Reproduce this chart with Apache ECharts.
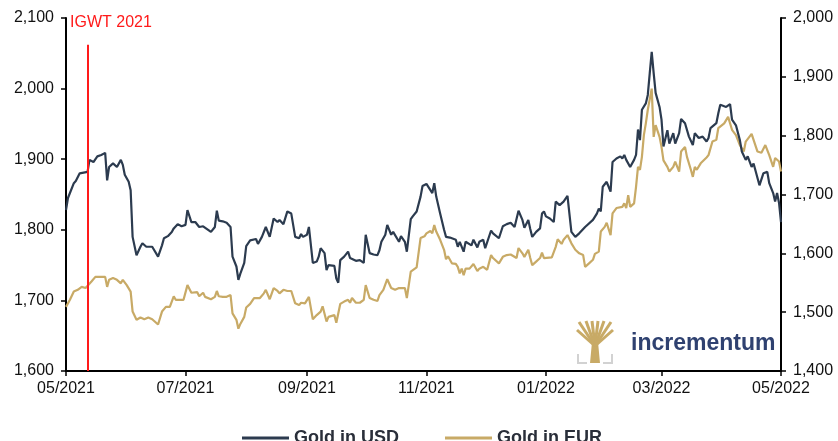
<!DOCTYPE html>
<html>
<head>
<meta charset="utf-8">
<script src="https://cdn.jsdelivr.net/npm/echarts@6/dist/echarts.min.js"></script>
<style>
  html, body { margin: 0; padding: 0; background: #fff; }
  #chart { width: 838px; height: 441px; }
</style>
</head>
<body>
<div id="chart"></div>
<script>
const usdDates = [
  '2021-05-01','2021-05-02','2021-05-05','2021-05-06','2021-05-08','2021-05-12','2021-05-13','2021-05-15','2021-05-17','2021-05-19',
  '2021-05-21','2021-05-22','2021-05-23','2021-05-25','2021-05-27','2021-05-29','2021-05-30','2021-05-31','2021-06-02','2021-06-03',
  '2021-06-04','2021-06-06','2021-06-08','2021-06-09','2021-06-11','2021-06-12','2021-06-14','2021-06-15','2021-06-17','2021-06-19',
  '2021-06-20','2021-06-22','2021-06-24','2021-06-25','2021-06-27','2021-06-29','2021-07-01','2021-07-02','2021-07-04','2021-07-06',
  '2021-07-08','2021-07-10','2021-07-12','2021-07-14','2021-07-16','2021-07-17','2021-07-18','2021-07-20','2021-07-22','2021-07-24',
  '2021-07-25','2021-07-27','2021-07-28','2021-07-29','2021-07-31','2021-08-01','2021-08-03','2021-08-04','2021-08-06','2021-08-07',
  '2021-08-09','2021-08-11','2021-08-13','2021-08-15','2021-08-17','2021-08-18','2021-08-20','2021-08-22','2021-08-24','2021-08-26',
  '2021-08-28','2021-08-29','2021-08-30','2021-09-01','2021-09-02','2021-09-04','2021-09-06','2021-09-07','2021-09-08','2021-09-10',
  '2021-09-11','2021-09-12','2021-09-15','2021-09-16','2021-09-17','2021-09-18','2021-09-20','2021-09-22','2021-09-23','2021-09-24',
  '2021-09-26','2021-09-28','2021-09-30','2021-10-01','2021-10-02','2021-10-03','2021-10-05','2021-10-07','2021-10-08','2021-10-09',
  '2021-10-11','2021-10-12','2021-10-14','2021-10-15','2021-10-16','2021-10-18','2021-10-19','2021-10-21','2021-10-22','2021-10-24',
  '2021-10-25','2021-10-27','2021-10-29','2021-10-30','2021-11-01','2021-11-02','2021-11-04','2021-11-05','2021-11-06','2021-11-08',
  '2021-11-10','2021-11-11','2021-11-13','2021-11-14','2021-11-16','2021-11-17','2021-11-18','2021-11-20','2021-11-21','2021-11-22',
  '2021-11-24','2021-11-25','2021-11-27','2021-11-28','2021-11-30','2021-12-01','2021-12-04','2021-12-05','2021-12-08','2021-12-10',
  '2021-12-12','2021-12-14','2021-12-16','2021-12-18','2021-12-20','2021-12-21','2021-12-23','2021-12-24','2021-12-25','2021-12-27',
  '2021-12-29','2021-12-30','2021-12-31','2022-01-01','2022-01-03','2022-01-04','2022-01-05','2022-01-06','2022-01-08','2022-01-10',
  '2022-01-12','2022-01-14','2022-01-16','2022-01-18','2022-01-21','2022-01-22','2022-01-25','2022-01-27','2022-01-28','2022-01-29',
  '2022-01-30','2022-02-01','2022-02-02','2022-02-03','2022-02-04','2022-02-06','2022-02-08','2022-02-09','2022-02-10','2022-02-11',
  '2022-02-13','2022-02-15','2022-02-16','2022-02-17','2022-02-18','2022-02-19','2022-02-21','2022-02-22','2022-02-23','2022-02-24',
  '2022-02-25','2022-02-26','2022-02-27','2022-02-28','2022-03-01','2022-03-02','2022-03-04','2022-03-05','2022-03-07','2022-03-08',
  '2022-03-10','2022-03-11','2022-03-13','2022-03-15','2022-03-17','2022-03-18','2022-03-20','2022-03-22','2022-03-24','2022-03-25',
  '2022-03-26','2022-03-29','2022-03-30','2022-03-31','2022-04-03','2022-04-05','2022-04-06','2022-04-08','2022-04-10','2022-04-11',
  '2022-04-13','2022-04-14','2022-04-16','2022-04-17','2022-04-20','2022-04-22','2022-04-24','2022-04-25','2022-04-27','2022-04-28',
  '2022-04-29','2022-04-30','2022-05-01'
]
const usdValues = [
  1828,1845,1866,1869,1880,1882,1899,1896,1904,1906,
  1909,1870,1889,1894,1889,1899,1892,1878,1868,1856,
  1790,1764,1776,1781,1776,1778,1776,1778,1762,1778,
  1788,1791,1797,1802,1808,1805,1807,1828,1811,1811,
  1804,1805,1801,1797,1804,1827,1813,1812,1810,1804,
  1762,1748,1729,1738,1753,1777,1785,1787,1787,1780,
  1790,1804,1790,1816,1811,1814,1808,1826,1823,1790,
  1788,1794,1790,1793,1804,1753,1755,1762,1774,1767,
  1743,1750,1749,1731,1725,1757,1762,1769,1760,1762,
  1756,1757,1753,1793,1795,1767,1765,1764,1771,1783,
  1793,1807,1793,1797,1797,1783,1791,1783,1769,1815,
  1819,1826,1847,1862,1865,1863,1852,1866,1847,1823,
  1800,1790,1789,1791,1786,1776,1783,1769,1783,1781,
  1778,1786,1775,1783,1786,1774,1799,1795,1788,1805,
  1808,1810,1804,1827,1814,1803,1814,1801,1790,1797,
  1802,1823,1826,1819,1816,1816,1811,1840,1835,1840,
  1848,1797,1790,1795,1804,1804,1814,1823,1830,1826,
  1861,1868,1870,1854,1896,1901,1904,1901,1906,1899,
  1889,1899,1906,1942,1927,1970,1979,1991,2022,2052,
  2022,1994,1993,1974,1956,1918,1941,1922,1937,1922,
  1937,1957,1951,1932,1920,1937,1930,1932,1925,1930,
  1944,1951,1965,1977,1974,1978,1956,1948,1927,1911,
  1899,1904,1889,1894,1863,1880,1882,1866,1852,1840,
  1852,1838,1811
]
const eurDates = [
  '2021-05-01','2021-05-03','2021-05-05','2021-05-06','2021-05-07','2021-05-09','2021-05-11','2021-05-12','2021-05-14','2021-05-16',
  '2021-05-18','2021-05-21','2021-05-22','2021-05-23','2021-05-25','2021-05-27','2021-05-28','2021-05-29','2021-05-30','2021-06-01',
  '2021-06-03','2021-06-04','2021-06-06','2021-06-08','2021-06-09','2021-06-10','2021-06-12','2021-06-14','2021-06-15','2021-06-17',
  '2021-06-19','2021-06-21','2021-06-23','2021-06-25','2021-06-26','2021-06-28','2021-06-30','2021-07-02','2021-07-04','2021-07-07',
  '2021-07-08','2021-07-10','2021-07-11','2021-07-14','2021-07-16','2021-07-17','2021-07-18','2021-07-20','2021-07-22','2021-07-24',
  '2021-07-25','2021-07-27','2021-07-28','2021-07-29','2021-07-31','2021-08-01','2021-08-03','2021-08-05','2021-08-06','2021-08-08',
  '2021-08-10','2021-08-11','2021-08-13','2021-08-15','2021-08-17','2021-08-18','2021-08-20','2021-08-22','2021-08-24','2021-08-26',
  '2021-08-28','2021-08-29','2021-08-31','2021-09-02','2021-09-04','2021-09-06','2021-09-08','2021-09-09','2021-09-10','2021-09-11',
  '2021-09-12','2021-09-15','2021-09-16','2021-09-17','2021-09-18','2021-09-20','2021-09-22','2021-09-23','2021-09-24','2021-09-26',
  '2021-09-28','2021-09-30','2021-10-01','2021-10-02','2021-10-03','2021-10-05','2021-10-07','2021-10-08','2021-10-10','2021-10-12',
  '2021-10-14','2021-10-15','2021-10-16','2021-10-18','2021-10-19','2021-10-21','2021-10-22','2021-10-24','2021-10-25','2021-10-27',
  '2021-10-29','2021-10-31','2021-11-01','2021-11-03','2021-11-04','2021-11-05','2021-11-06','2021-11-08','2021-11-10','2021-11-11',
  '2021-11-12','2021-11-14','2021-11-16','2021-11-17','2021-11-18','2021-11-19','2021-11-20','2021-11-21','2021-11-23','2021-11-24',
  '2021-11-25','2021-11-27','2021-11-28','2021-11-30','2021-12-02','2021-12-04','2021-12-05','2021-12-08','2021-12-10','2021-12-12',
  '2021-12-14','2021-12-17','2021-12-18','2021-12-20','2021-12-21','2021-12-23','2021-12-24','2021-12-25','2021-12-27','2021-12-29',
  '2021-12-30','2021-12-31','2022-01-01','2022-01-04','2022-01-06','2022-01-07','2022-01-09','2022-01-10','2022-01-12','2022-01-14',
  '2022-01-16','2022-01-18','2022-01-20','2022-01-21','2022-01-23','2022-01-25','2022-01-26','2022-01-28','2022-01-29','2022-01-31',
  '2022-02-01','2022-02-03','2022-02-04','2022-02-06','2022-02-09','2022-02-10','2022-02-11','2022-02-12','2022-02-13','2022-02-15',
  '2022-02-16','2022-02-17','2022-02-18','2022-02-19','2022-02-20','2022-02-21','2022-02-22','2022-02-24','2022-02-25','2022-02-26',
  '2022-02-27','2022-02-28','2022-03-01','2022-03-02','2022-03-04','2022-03-05','2022-03-07','2022-03-08','2022-03-10','2022-03-11',
  '2022-03-13','2022-03-14','2022-03-16','2022-03-17','2022-03-18','2022-03-19','2022-03-21','2022-03-24','2022-03-25','2022-03-27',
  '2022-03-29','2022-03-30','2022-04-02','2022-04-04','2022-04-05','2022-04-06','2022-04-08','2022-04-10','2022-04-12','2022-04-13',
  '2022-04-14','2022-04-16','2022-04-17','2022-04-19','2022-04-21','2022-04-23','2022-04-25','2022-04-27','2022-04-28','2022-04-30',
  '2022-05-01'
]
const eurValues = [
  1509,1521,1535,1532,1538,1543,1541,1538,1552,1560,
  1560,1560,1543,1555,1558,1555,1558,1549,1555,1546,
  1535,1501,1487,1491,1493,1488,1491,1488,1490,1479,
  1501,1509,1509,1527,1521,1521,1521,1546,1533,1534,
  1527,1533,1526,1522,1526,1536,1527,1526,1526,1529,
  1498,1487,1472,1480,1492,1508,1514,1524,1526,1524,
  1532,1538,1522,1541,1536,1532,1538,1536,1536,1515,
  1512,1516,1515,1526,1488,1495,1501,1510,1509,1484,
  1492,1495,1482,1484,1514,1518,1521,1516,1524,1516,
  1516,1521,1546,1546,1524,1521,1519,1529,1538,1556,
  1541,1544,1538,1541,1543,1541,1524,1569,1572,1576,
  1626,1629,1634,1638,1634,1648,1637,1623,1606,1590,
  1595,1583,1582,1577,1566,1574,1563,1574,1574,1577,
  1582,1570,1574,1577,1572,1597,1592,1583,1594,1597,
  1598,1592,1609,1600,1594,1606,1592,1580,1586,1592,
  1601,1592,1589,1593,1611,1624,1616,1623,1631,1617,
  1606,1600,1597,1577,1583,1589,1599,1603,1637,1645,
  1652,1631,1668,1677,1679,1685,1677,1699,1679,1685,
  1713,1747,1742,1764,1801,1821,1844,1880,1798,1818,
  1820,1798,1781,1758,1747,1739,1747,1756,1739,1773,
  1781,1764,1742,1730,1747,1742,1753,1763,1767,1790,
  1793,1813,1821,1832,1833,1810,1801,1784,1773,1790,
  1787,1803,1793,1773,1771,1784,1767,1747,1762,1756,
  1739
]
const monthTicks = ['2021-05-01','2021-07-01','2021-09-01','2021-11-01','2022-01-01','2022-03-01','2022-05-01']
const igwtDate = '2021-05-12'
const igwtLabel = 'IGWT 2021'

const usdColor = '#2c3b4f'
const eurColor = '#c8aa66'
const font = 'Liberation Sans, Arial, sans-serif'

// dates -> timestamps, x axis is a plain value axis over time
const toTime = d => Date.UTC(+d.slice(0, 4), +d.slice(5, 7) - 1, +d.slice(8, 10))
const tickTimes = monthTicks.map(toTime)
const fmtNum = v => v.toLocaleString('en-US')
const fmtMonth = v => {
  const d = new Date(v)
  return String(d.getUTCMonth() + 1).padStart(2, '0') + '/' + d.getUTCFullYear()
}

const chart = echarts.init(document.getElementById('chart'), null, { renderer: 'canvas' })

chart.setOption({
  animation: false,
  backgroundColor: '#fff',
  grid: { left: 66, right: 57, top: 18, bottom: 70 },
  legend: {
    top: 424,
    left: 237,
    itemWidth: 47,
    itemHeight: 3,
    itemGap: 46,
    icon: 'rect',
    textStyle: { fontFamily: font, fontSize: 18, fontWeight: 'bold', color: '#2a2f3a' },
    data: ['Gold in USD', 'Gold in EUR']
  },
  xAxis: {
    type: 'value',
    min: tickTimes[0],
    max: tickTimes[tickTimes.length - 1],
    splitLine: { show: false },
    axisLine: { lineStyle: { color: '#000', width: 2 } },
    axisTick: { show: true, length: 5, lineStyle: { color: '#000', width: 1.5 }, customValues: tickTimes },
    axisLabel: {
      customValues: tickTimes,
      formatter: fmtMonth,
      fontFamily: font,
      fontSize: 16,
      color: '#111',
      margin: 10,
      showMinLabel: true,
      showMaxLabel: true
    }
  },
  yAxis: [
    {
      type: 'value',
      min: 1600,
      max: 2100,
      interval: 100,
      position: 'left',
      splitLine: { show: false },
      axisLine: { show: true, lineStyle: { color: '#000', width: 2 } },
      axisTick: { show: true, length: 5, lineStyle: { color: '#000', width: 1.5 } },
      axisLabel: { formatter: fmtNum, fontFamily: font, fontSize: 16, color: '#111', margin: 12 }
    },
    {
      type: 'value',
      min: 1400,
      max: 2000,
      interval: 100,
      position: 'right',
      splitLine: { show: false },
      axisLine: { show: true, lineStyle: { color: '#000', width: 2 } },
      axisTick: { show: true, length: 5, lineStyle: { color: '#000', width: 1.5 } },
      axisLabel: { formatter: fmtNum, fontFamily: font, fontSize: 16, color: '#111', margin: 12 }
    }
  ],
  series: [
    {
      name: 'Gold in EUR',
      type: 'line',
      yAxisIndex: 1,
      showSymbol: false,
      symbol: 'none',
      color: eurColor,
      lineStyle: { width: 2.2, color: eurColor },
      data: eurDates.map((d, i) => [toTime(d), eurValues[i]]),
      z: 2
    },
    {
      name: 'Gold in USD',
      type: 'line',
      yAxisIndex: 0,
      showSymbol: false,
      symbol: 'none',
      color: usdColor,
      lineStyle: { width: 2.2, color: usdColor },
      data: usdDates.map((d, i) => [toTime(d), usdValues[i]]),
      z: 3,
      markLine: {
        silent: true,
        symbol: 'none',
        lineStyle: { color: '#ff1a1a', width: 2, type: 'solid' },
        label: { show: false },
        data: [[{ coord: [toTime(igwtDate), 2062] }, { coord: [toTime(igwtDate), 1600] }]]
      },
      markPoint: {
        silent: true,
        symbol: 'circle',
        symbolSize: 1,
        itemStyle: { color: 'rgba(0,0,0,0)' },
        label: {
          show: true,
          position: 'right',
          distance: 0,
          offset: [-18, 5],
          formatter: igwtLabel,
          color: '#ff1a1a',
          fontFamily: font,
          fontSize: 16
        },
        data: [{ coord: [toTime(igwtDate), 2100] }]
      }
    }
  ],
  graphic: [
    {
      type: 'group',
      silent: true,
      children: [
        { type: 'polygon', shape: { points: [[590, 363], [600, 363], [598, 342], [592, 342]] }, style: { fill: eurColor } },
        { type: 'polyline', shape: { points: [[595, 346], [577, 330]] }, style: { stroke: eurColor, lineWidth: 3, fill: null } },
        { type: 'polyline', shape: { points: [[595, 346], [579, 322]] }, style: { stroke: eurColor, lineWidth: 3, fill: null } },
        { type: 'polyline', shape: { points: [[595, 346], [586, 321]] }, style: { stroke: eurColor, lineWidth: 3, fill: null } },
        { type: 'polyline', shape: { points: [[595, 346], [592, 321]] }, style: { stroke: eurColor, lineWidth: 3, fill: null } },
        { type: 'polyline', shape: { points: [[595, 346], [598, 321]] }, style: { stroke: eurColor, lineWidth: 3, fill: null } },
        { type: 'polyline', shape: { points: [[595, 346], [604, 321]] }, style: { stroke: eurColor, lineWidth: 3, fill: null } },
        { type: 'polyline', shape: { points: [[595, 346], [611, 322]] }, style: { stroke: eurColor, lineWidth: 3, fill: null } },
        { type: 'polyline', shape: { points: [[595, 346], [613, 330]] }, style: { stroke: eurColor, lineWidth: 3, fill: null } },
        { type: 'polyline', shape: { points: [[578, 354], [578, 363], [587, 363]] }, style: { stroke: '#d2d2d2', lineWidth: 2, fill: null } },
        { type: 'polyline', shape: { points: [[612, 354], [612, 363], [603, 363]] }, style: { stroke: '#d2d2d2', lineWidth: 2, fill: null } },
        {
          type: 'text',
          x: 631,
          y: 344,
          style: {
            text: 'incrementum',
            fill: '#2f4170',
            font: 'bold 23px Liberation Sans, Arial, sans-serif',
            textVerticalAlign: 'middle'
          }
        }
      ]
    }
  ]
})
</script>
</body>
</html>
